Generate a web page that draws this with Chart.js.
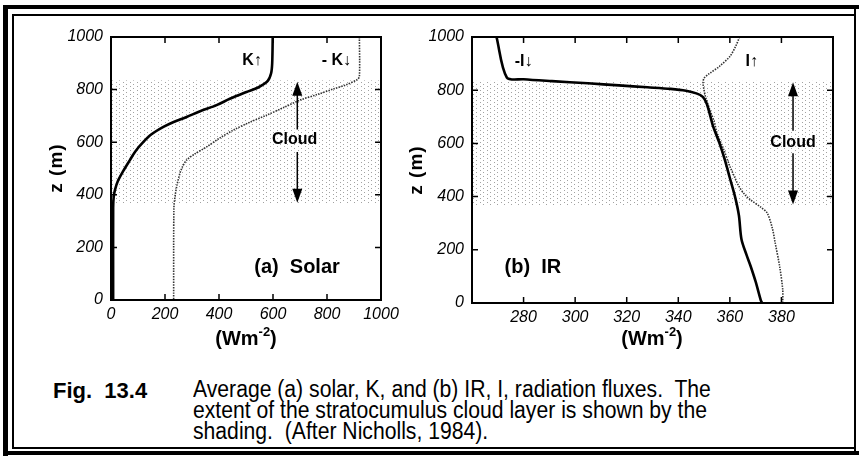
<!DOCTYPE html>
<html>
<head>
<meta charset="utf-8">
<script src="https://cdn.jsdelivr.net/npm/chart.js@4.4.1/dist/chart.umd.min.js"></script>
<style>
  body { margin: 0; background: #fff; width: 859px; height: 458px; position: relative; overflow: hidden;
         font-family: "Liberation Sans", Arial, sans-serif; color: #000; }
  .ln { position: absolute; background: #000; }
  .wrap { position: absolute; top: 0; height: 360px; }
  #solarWrap { left: 0; width: 420px; }
  #irWrap { left: 420px; width: 439px; }
  .ytitle { position: absolute; width: 80px; height: 24px; line-height: 24px; text-align: center;
            font-weight: bold; font-size: 19px; letter-spacing: 1px; transform: rotate(-90deg); white-space: nowrap; }
  .xtitle { position: absolute; width: 120px; text-align: center; font-weight: bold; font-size: 20px; white-space: nowrap; }
  .xtitle sup { font-size: 13px; vertical-align: 9px; line-height: 0; }
  #figNo { position: absolute; left: 53px; top: 380px; font-weight: bold; font-size: 22px; line-height: 21px; }
  #caption { position: absolute; left: 193px; top: 379px; width: 700px; font-size: 23px; line-height: 21px;
             transform: scaleX(0.92); transform-origin: 0 0; white-space: nowrap; }
</style>
</head>
<body>

<!-- frame -->
<div class="ln" style="left:3px; top:5px; width:856px; height:4px;"></div>
<div class="ln" style="left:3px; top:5px; width:5px; height:451px;"></div>
<div class="ln" style="left:3px; top:451px; width:856px; height:4px;"></div>
<div class="ln" style="left:12px; top:14px; width:844px; height:1.5px;"></div>
<div class="ln" style="left:12px; top:14px; width:1.5px; height:434px;"></div>
<div class="ln" style="left:12px; top:447px; width:844px; height:1.5px;"></div>
<div class="ln" style="left:854px; top:5px; width:2px; height:450px;"></div>

<div class="wrap" id="solarWrap"><canvas id="solar" width="420" height="360"></canvas></div>
<div class="wrap" id="irWrap"><canvas id="ir" width="439" height="360"></canvas></div>

<div class="ytitle" style="left:16px; top:156px;">z (m)</div>
<div class="ytitle" style="left:376px; top:158px;">z (m)</div>
<div class="xtitle" style="left:186px; top:327px;">(Wm<sup>-2</sup>)</div>
<div class="xtitle" style="left:592px; top:327px;">(Wm<sup>-2</sup>)</div>

<div id="figNo">Fig.&nbsp; 13.4</div>
<div id="caption">Average (a) solar, K, and (b) IR, I, radiation fluxes.&nbsp; The<br>extent of the stratocumulus cloud layer is shown by the<br>shading.&nbsp; (After Nicholls, 1984).</div>

<script>
// ---- data: [flux (W m-2), z (m)] ----
const solarUp = [[599,1000],[597,900],[593,862],[580,832],[545,808],[502,791],[440,765],[391,741],[330,718],
  [280,696],[230,676],[194,658],[150,630],[120,601],[90,565],[70,532],[45,490],[27,456],[15,420],[10,392],[8,350],[8,0]];
const solarDown = [[920,1000],[920,850],[912,838],[870,818],[823,802],[763,781],[700,760],[640,732],[577,703],
  [510,674],[453,646],[400,614],[354,582],[310,555],[280,532],[264,505],[255,481],[245,440],[238,400],[233,350],[232,0]];
const irDown = [[269.5,1000],[273.5,848],[280,841],[291,834],[305,826],[317,818],[328,811],[337,805],[343,798],
  [347,788],[349.5,775],[351,750],[352.5,700],[353.5,664],[356,600],[358,540],[360,470],[362,400],[363.5,330],
  [364.5,240],[366.5,180],[368,140],[370,80],[372,10],[372.5,0]];
const irUp = [[363.8,1000],[362,960],[360,927],[356,890],[352,862],[350,845],[349.6,827],[350,800],[350.5,777],
  [352.2,727],[354,680],[355,639],[357.5,580],[360,514],[362,470],[363.5,439],[366,405],[368,388],[372,360],
  [374.5,338],[376.5,280],[377.5,230],[379.3,138],[380.5,50],[380.5,0]];

const zTicks = [0, 200, 400, 600, 800, 1000];
const solarTicks = [0, 200, 400, 600, 800, 1000];
const irTicks = [260, 280, 300, 320, 340, 360, 380, 400];
const irTickLabels = ["", "280", "300", "320", "340", "360", "380", ""];
const cloudLayer = [365, 835];

const tickFont = { family: "'Liberation Sans', Arial, sans-serif", size: 16, style: "italic" };

function toPoints(arr) {
  return arr.map(p => ({ x: p[0], y: p[1] }));
}

// stipple pattern for the cloud shading
function makeStipple(ctx) {
  const c = document.createElement("canvas");
  c.width = 7; c.height = 4;
  const g = c.getContext("2d");
  g.fillStyle = "#a2a2a2";
  g.fillRect(0, 0, 1, 1);
  g.fillRect(4, 2, 1, 1);
  return ctx.createPattern(c, "repeat");
}

function arrowHead(ctx, x, y, dir) {
  ctx.beginPath();
  ctx.moveTo(x, y);
  ctx.lineTo(x - 5, y - dir * 14);
  ctx.lineTo(x + 5, y - dir * 14);
  ctx.closePath();
  ctx.fill();
}

const decor = {
  id: "decor",
  beforeDatasetsDraw(chart, args, opts) {
    const { ctx, chartArea: a, scales: { y } } = chart;
    const top = y.getPixelForValue(cloudLayer[1]);
    const bot = y.getPixelForValue(cloudLayer[0]);
    ctx.save();
    ctx.fillStyle = makeStipple(ctx);
    ctx.fillRect(a.left, top, a.width, bot - top);
    ctx.restore();
  },
  afterDatasetsDraw(chart, args, opts) {
    const { ctx, scales: { x, y } } = chart;
    ctx.save();
    ctx.fillStyle = "#000";
    ctx.strokeStyle = "#000";
    // cloud arrow
    const ar = opts.arrow;
    const ax = x.getPixelForValue(ar.x);
    const y1 = y.getPixelForValue(ar.top), y2 = y.getPixelForValue(ar.bottom);
    const g1 = y.getPixelForValue(ar.gapTop), g2 = y.getPixelForValue(ar.gapBottom);
    ctx.lineWidth = 1.5;
    ctx.beginPath();
    ctx.moveTo(ax, y1 + 10); ctx.lineTo(ax, g1);
    ctx.moveTo(ax, g2); ctx.lineTo(ax, y2 - 10);
    ctx.stroke();
    arrowHead(ctx, ax, y1, -1);
    arrowHead(ctx, ax, y2, 1);
    // labels
    ctx.textAlign = "center";
    ctx.textBaseline = "middle";
    opts.labels.forEach(l => {
      ctx.font = l.font;
      ctx.fillText(l.text, x.getPixelForValue(l.x), y.getPixelForValue(l.z));
    });
    ctx.restore();
  },
  afterDraw(chart) {
    const { ctx, chartArea: a, scales: { x, y } } = chart;
    ctx.save();
    ctx.strokeStyle = "#000";
    ctx.lineWidth = 1.5;
    ctx.beginPath();
    x.ticks.forEach(t => {
      const px = x.getPixelForValue(t.value);
      ctx.moveTo(px, a.bottom); ctx.lineTo(px, a.bottom - 6);
      ctx.moveTo(px, a.top); ctx.lineTo(px, a.top + 6);
    });
    y.ticks.forEach(t => {
      const py = y.getPixelForValue(t.value);
      ctx.moveTo(a.left, py); ctx.lineTo(a.left + 6, py);
      ctx.moveTo(a.right, py); ctx.lineTo(a.right - 6, py);
    });
    ctx.stroke();
    ctx.lineWidth = 2;
    ctx.strokeRect(a.left, a.top, a.right - a.left, a.bottom - a.top);
    ctx.restore();
  }
};

function lineSet(arr, solid) {
  return {
    data: toPoints(arr),
    showLine: true,
    pointRadius: 0,
    borderColor: solid ? "#000" : "#333",
    borderWidth: solid ? 2.6 : 1.6,
    borderDash: solid ? [] : [1.5, 1.2],
    tension: 0.3,
    fill: false
  };
}

function makeChart(id, datasets, xr, xTicks, xLabels, pad, extra) {
  return new Chart(document.getElementById(id), {
    type: "scatter",
    data: { datasets: datasets },
    options: {
      responsive: false,
      animation: false,
      layout: { padding: pad },
      plugins: { legend: { display: false }, tooltip: { enabled: false }, decor: extra },
      scales: {
        x: {
          type: "linear", min: xr[0], max: xr[1],
          afterFit: s => { s.height = 40; },
          afterBuildTicks: s => { s.ticks = xTicks.map(v => ({ value: v })); },
          grid: { display: false, drawTicks: false },
          border: { display: false },
          ticks: {
            padding: 5, color: "#000", font: tickFont, maxRotation: 0, autoSkip: false,
            callback: v => xLabels[xTicks.indexOf(v)]
          }
        },
        y: {
          type: "linear", min: 0, max: 1000,
          afterFit: s => { s.width = 50; },
          afterBuildTicks: s => { s.ticks = zTicks.map(v => ({ value: v })); },
          grid: { display: false, drawTicks: false },
          border: { display: false },
          ticks: { padding: 8, color: "#000", font: tickFont, autoSkip: false, callback: v => String(v) }
        }
      }
    },
    plugins: [decor]
  });
}

const boldFont = s => "bold " + s + "px 'Liberation Sans', Arial, sans-serif";

makeChart("solar", [lineSet(solarUp, true), lineSet(solarDown, false)],
  [0, 1000], solarTicks, solarTicks.map(String),
  { left: 61, right: 39, top: 37, bottom: 20 },
  {
    arrow: { x: 690, top: 830, bottom: 370, gapTop: 648, gapBottom: 563 },
    labels: [
      { text: "K\u2191", x: 522, z: 912, font: boldFont(16) },
      { text: "- K\u2193", x: 835, z: 912, font: boldFont(16) },
      { text: "Cloud", x: 680, z: 610, font: boldFont(16) },
      { text: "(a)  Solar", x: 689, z: 125, font: boldFont(20) }
    ]
  });

makeChart("ir", [lineSet(irDown, true), lineSet(irUp, false)],
  [260, 400], irTicks, irTickLabels,
  { left: 2, right: 26, top: 37, bottom: 17 },
  {
    arrow: { x: 384.5, top: 830, bottom: 370, gapTop: 648, gapBottom: 563 },
    labels: [
      { text: "-I\u2193", x: 280, z: 906, font: boldFont(16) },
      { text: "I\u2191", x: 368.5, z: 906, font: boldFont(16) },
      { text: "Cloud", x: 384.5, z: 604, font: boldFont(16) },
      { text: "(b)  IR", x: 283.6, z: 132, font: boldFont(20) }
    ]
  });
</script>
</body>
</html>
